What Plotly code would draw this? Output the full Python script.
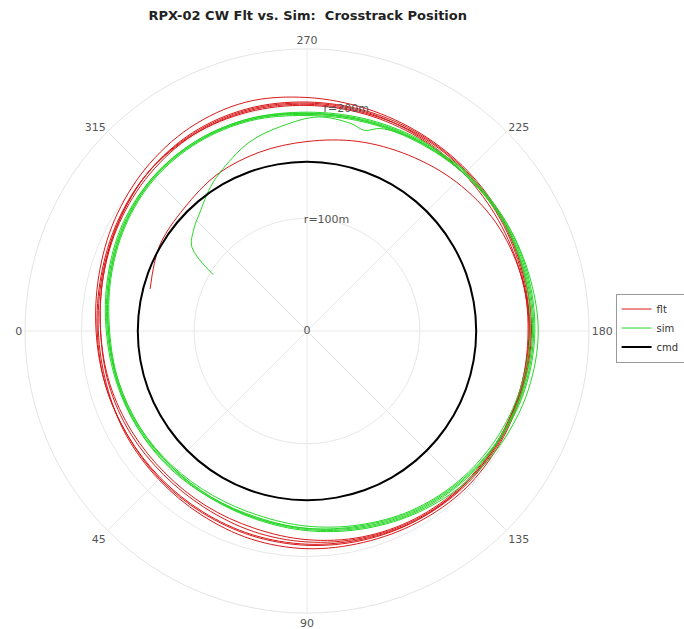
import plotly.graph_objects as go

# Flight track: heading angle (deg) and crosstrack radius (m)
flt_theta = [345, 330, 315, 300, 285, 270, 255, 240, 225, 210, 195,
             180, 165, 150, 135, 120, 105, 90, 75, 60, 45, 30, 15, 0, 345, 330, 315, 300, 285, 270, 255, 240, 225, 210, 195,
             180, 165, 150, 135, 120, 105, 90, 75, 60, 45, 30, 15, 0, 345, 330, 315, 300, 285, 270, 255, 240, 225, 210, 195,
             180, 165, 150, 135, 120, 105, 90, 75, 60, 45, 30, 15, 0, 345, 330, 315, 300, 285, 270, 255, 240, 225, 210, 195,
             180, 165, 150, 135, 120, 105, 90, 75, 60, 45, 30, 15, 0, 345, 330, 315, 300, 285, 270, 255, 240, 225, 210, 195,
             180, 165, 150, 135, 120, 105, 90, 75, 60, 45, 30, 15, 0, 345, 330, 315, 300, 285, 270, 255, 240, 225]
flt_r = [144, 151, 154, 160, 164, 168, 174, 180, 187, 193, 196,
         198, 197, 197, 196, 194, 191, 189, 187, 185, 184, 184, 185, 187, 191, 197, 203, 208, 210, 207, 204, 202, 201, 200, 199,
         199, 198, 198, 198, 196, 194, 193, 191, 188, 186, 185, 184, 185, 188, 193, 199, 203, 204, 203, 202, 201, 200, 199, 198,
         197, 196, 196, 195, 193, 190, 187, 184, 181, 180, 181, 182, 183, 187, 192, 197, 201, 202, 201, 200, 200, 199, 198, 197,
         196, 196, 195, 194, 192, 189, 185, 181, 179, 178, 179, 181, 183, 187, 193, 199, 202, 203, 202, 201, 199, 197, 196, 196,
         197, 197, 196, 195, 194, 192, 190, 188, 186, 185, 184, 185, 186, 189, 194, 199, 201, 201, 200, 199, 198, 197]

# Simulation track
sim_theta = [329, 324, 318, 311, 305, 299, 287, 277, 267, 258, 254, 250, 240, 225, 210, 195,
             180, 165, 150, 135, 120, 105, 90, 75, 60, 45, 30, 15, 0, 345, 330, 315, 300, 285, 270, 255, 240, 225, 210, 195,
             180, 165, 150, 135, 120, 105, 90, 75, 60, 45, 30, 15, 0, 345, 330, 315, 300, 285, 270, 255, 240, 225, 210, 195,
             180, 165, 150, 135, 120, 105, 90, 75, 60, 45, 30, 15, 0, 345, 330, 315, 300, 285, 270, 255, 240, 225, 210, 195,
             180, 165, 150, 135, 120, 105, 90, 75, 60, 45, 30, 15, 0, 345, 330, 315, 300, 285, 270, 255, 240, 225, 210, 195,
             180, 165, 150, 135, 120, 105, 90, 75, 60, 45, 30, 15, 0, 345, 330, 315, 300, 285, 270, 255, 240, 225]
sim_r = [97, 126, 135, 143, 152, 160, 175, 183, 190, 188, 185, 191, 195, 197, 199, 200,
         200, 198, 195, 191, 186, 180, 175, 172, 171, 172, 173, 174, 176, 181, 187, 192, 194, 194, 193, 194, 196, 199, 201, 202,
         202, 200, 196, 192, 187, 181, 176, 172, 170, 170, 171, 173, 176, 181, 187, 192, 194, 194, 192, 193, 195, 197, 199, 199,
         198, 196, 193, 189, 184, 178, 173, 169, 168, 169, 171, 173, 175, 180, 186, 191, 193, 193, 191, 192, 194, 197, 200, 201,
         201, 199, 195, 190, 185, 179, 175, 171, 170, 170, 172, 174, 177, 182, 188, 193, 195, 195, 193, 193, 195, 198, 201, 203,
         205, 203, 199, 194, 188, 182, 177, 173, 171, 171, 173, 175, 178, 183, 189, 193, 195, 195, 194, 195, 197, 200]

# Commanded orbit radius
cmd_theta = [0, 10, 20, 30, 40, 50, 60, 70, 80, 90, 100, 110, 120, 130, 140, 150, 160, 170, 180,
             190, 200, 210, 220, 230, 240, 250, 260, 270, 280, 290, 300, 310, 320, 330, 340, 350, 360]
cmd_r = [150] * len(cmd_theta)

# Radial ring labels
ring_vals = [0, 100, 200]
ring_text = ["0", "r=100m", "r=200m"]

angle_ticks = [0, 45, 90, 135, 180, 225, 270, 315]

fig = go.Figure()
fig.add_trace(go.Scatterpolar(theta=flt_theta, r=flt_r, mode="lines", name="flt",
                              line=dict(color="rgb(215,25,25)", width=1, shape="spline")))
fig.add_trace(go.Scatterpolar(theta=sim_theta, r=sim_r, mode="lines", name="sim",
                              line=dict(color="rgb(40,215,40)", width=1, shape="spline")))
fig.add_trace(go.Scatterpolar(theta=cmd_theta, r=cmd_r, mode="lines", name="cmd",
                              line=dict(color="black", width=2, shape="spline")))
fig.add_trace(go.Scatterpolar(theta=[260] * len(ring_vals), r=ring_vals, mode="text",
                              text=ring_text, showlegend=False, hoverinfo="skip",
                              textfont=dict(family="DejaVu Sans", size=11, color="#555555")))

fig.update_layout(
    width=684, height=629,
    margin=dict(l=25, r=95, t=49, b=16, autoexpand=False),
    paper_bgcolor="white",
    font=dict(family="DejaVu Sans", size=11, color="#555555"),
    title=dict(text="<b>RPX-02 CW Flt vs. Sim:  Crosstrack Position</b>",
               x=0.45, xanchor="center", y=0.975, yanchor="middle",
               font=dict(family="DejaVu Sans", size=13, color="#222222")),
    polar=dict(
        bgcolor="white",
        angularaxis=dict(rotation=180, direction="counterclockwise",
                         tickvals=angle_ticks, ticktext=[str(a) for a in angle_ticks],
                         showline=True, linecolor="#e4e4e4", linewidth=1,
                         gridcolor="#e8e8e8", ticks="",
                         tickfont=dict(family="DejaVu Sans", size=11, color="#555555")),
        radialaxis=dict(range=[0, 250], tickvals=[100, 200], showticklabels=False,
                        showline=False, ticks="", gridcolor="#e8e8e8"),
    ),
    legend=dict(xref="container", yref="container", x=0.9, y=0.4785,
                xanchor="left", yanchor="middle",
                bgcolor="white", bordercolor="#999999", borderwidth=1,
                font=dict(family="DejaVu Sans", size=10, color="#333333"),
                tracegroupgap=0, itemwidth=30),
    showlegend=True,
)

fig.write_html("out.html")
